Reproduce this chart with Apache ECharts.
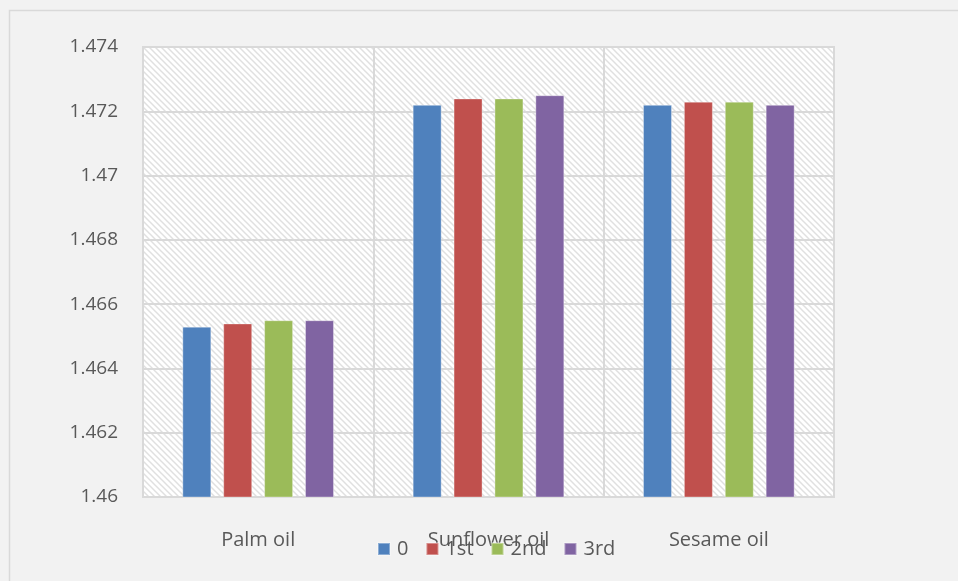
<!DOCTYPE html>
<html>
<head>
<meta charset="utf-8">
<script src="https://cdn.jsdelivr.net/npm/echarts@6/dist/echarts.min.js"></script>
<style>
  html, body { margin: 0; padding: 0; background: #f2f2f2; }
  #chart { width: 958px; height: 581px; }
</style>
</head>
<body>
<div id="chart"></div>
<script>
// Refractive index of oils across frying cycles
const categories = ['Palm oil', 'Sunflower oil', 'Sesame oil'];
const seriesNames = ['0', '1st', '2nd', '3rd'];
const cycle0 = [1.4653, 1.4722, 1.4722];
const cycle1 = [1.4654, 1.4724, 1.4723];
const cycle2 = [1.4655, 1.4724, 1.4723];
const cycle3 = [1.4655, 1.4725, 1.4722];
const yTicks = { min: 1.46, max: 1.474, interval: 0.002 };

const colors = ['#4f81bd', '#c0504d', '#9bbb59', '#8064a2'];
const values = [cycle0, cycle1, cycle2, cycle3];

// Diagonal hatch fill for the plot area
function hatchCanvas() {
  const s = 6;
  const c = document.createElement('canvas');
  c.width = s; c.height = s;
  const g = c.getContext('2d');
  g.fillStyle = '#ffffff';
  g.fillRect(0, 0, s, s);
  g.strokeStyle = '#e0e0e0';
  g.lineWidth = 1.5;
  g.beginPath();
  g.moveTo(-1, -1); g.lineTo(s + 1, s + 1);
  g.moveTo(-1, s - 1); g.lineTo(1, s + 1);
  g.moveTo(s - 1, -1); g.lineTo(s + 1, 1);
  g.stroke();
  return c;
}

const chart = echarts.init(document.getElementById('chart'), null, { renderer: 'canvas' });
const textColor = '#595959';
const lineColor = '#d9d9d9';

chart.setOption({
  backgroundColor: '#f2f2f2',
  animation: false,
  graphic: [{
    type: 'polyline',
    shape: { points: [[9.5, 581], [9.5, 10.5], [958, 10.5]] },
    style: { stroke: '#d9d9d9', lineWidth: 1.5, fill: null },
    silent: true
  }],
  grid: {
    left: 143, right: 124, top: 47, bottom: 84,
    show: true,
    backgroundColor: { image: hatchCanvas(), repeat: 'repeat' },
    borderColor: lineColor,
    borderWidth: 2
  },
  legend: {
    data: seriesNames,
    bottom: 17,
    left: 372,
    itemWidth: 12,
    itemHeight: 12,
    itemGap: 17,
    icon: 'rect',
    textStyle: { color: textColor, fontSize: 20, fontFamily: 'Open Sans', padding: [0, 0, 0, 2] }
  },
  xAxis: {
    type: 'category',
    data: categories,
    axisLine: { show: true, lineStyle: { color: lineColor, width: 2 } },
    axisTick: { show: false },
    splitLine: { show: true, interval: 0, lineStyle: { color: lineColor, width: 2 } },
    axisLabel: { color: textColor, fontSize: 20, fontFamily: 'Open Sans', margin: 33 }
  },
  yAxis: {
    type: 'value',
    min: yTicks.min, max: yTicks.max, interval: yTicks.interval,
    axisLine: { show: false },
    axisTick: { show: false },
    splitLine: { show: true, lineStyle: { color: lineColor, width: 2 } },
    axisLabel: {
      color: textColor, fontSize: 19, fontFamily: 'Open Sans', margin: 25,
      formatter: v => String(parseFloat(v.toFixed(3)))
    }
  },
  series: seriesNames.map((name, i) => ({
    name,
    type: 'bar',
    data: values[i],
    barWidth: 29,
    barGap: '41%',
    itemStyle: { color: colors[i], borderColor: 'rgba(255,255,255,0.35)', borderWidth: 1 }
  })),
  color: colors
});
</script>
</body>
</html>
